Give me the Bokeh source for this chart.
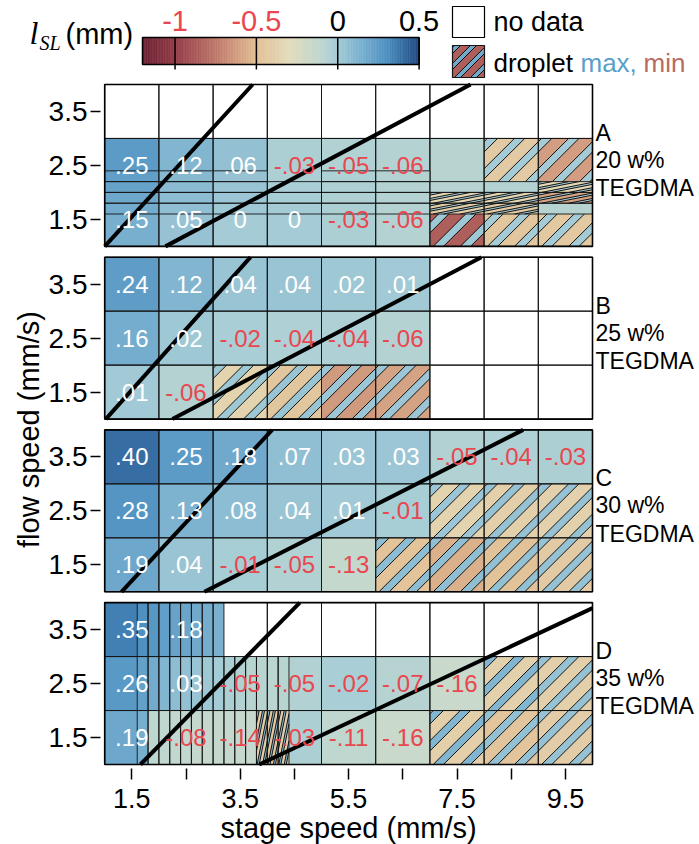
import numpy as np
from bokeh.plotting import figure
from bokeh.models import Range1d, FixedTicker, LinearAxis
from bokeh.embed import file_html
from bokeh.resources import INLINE
from bokeh.core.properties import value

# ---------------- data ----------------
stage_speed = [1.5, 2.5, 3.5, 4.5, 5.5, 6.5, 7.5, 8.5, 9.5]   # column centres (mm/s)
flow_speed = [1.5, 2.5, 3.5]                                    # row centres (mm/s)
x_tick_labels = ["1.5", "", "3.5", "", "5.5", "", "7.5", "", "9.5"]
y_tick_labels = ["1.5", "2.5", "3.5"]
panel_letters = ["A", "B", "C", "D"]
panel_conc = ["20 w%", "25 w%", "30 w%", "35 w%"]
panel_name = ["TEGDMA", "TEGDMA", "TEGDMA", "TEGDMA"]

N = None  # no data ; droplet cells are (max, min) tuples
A_flow15 = [.15, .05, 0, 0, -.03, -.06, (.02, -.85), (0, -.45), (0, -.43)]
A_flow25 = [.25, .12, .06, -.03, -.05, -.06, -.08, (0, -.42), (0, -.62)]
A_flow35 = [N, N, N, N, N, N, N, N, N]
A_unlabelled = [(6, 1)]  # (column, row) drawn without a number
B_flow15 = [.01, -.06, (.02, -.36), (.04, -.45), (.03, -.63), (.03, -.60), N, N, N]
B_flow25 = [.16, .02, -.02, -.04, -.04, -.06, N, N, N]
B_flow35 = [.24, .12, .04, .04, .02, .01, N, N, N]
C_flow15 = [.19, .04, -.01, -.05, -.13, (.08, -.47), (.07, -.55), (.06, -.48), (.05, -.42)]
C_flow25 = [.28, .13, .08, .04, .01, -.01, (.03, -.36), (.05, -.38), (.05, -.37)]
C_flow35 = [.40, .25, .18, .07, .03, .03, -.05, -.04, -.03]
D_flow15 = [.19, -.08, -.14, -.03, -.11, -.16, (.12, -.38), (.06, -.46), (.05, -.40)]
D_flow25 = [.26, .03, -.05, -.05, -.02, -.07, -.16, (.12, -.37), (.05, -.38)]
D_flow35 = [.35, .18, N, N, N, N, N, N, N]

# finer sampling (0.2 mm/s steps)
fine_step = 0.2
A_fine_flow = [1.7, 1.9, 2.1, 2.3]
A_fine = [
    [.17, .19, .21, .23],
    [.07, .08, .09, .10],
    [.02, .03, .04, .05],
    [0, -.01, -.02, N],
    [-.03, -.04, -.04, -.04],
    [-.06, -.06, -.06, -.06],
    [(0, -.40), (0, -.33), -.07, N],
    [(0, -.42), (0, -.33), -.06, N],
    [-.07, (0, -.60), (0, -.33), N],
]
D_fine_stage = [1.7, 1.9, 2.1, 2.3, 2.5, 2.7, 2.9, 3.1, 3.3, 3.5, 3.7, 3.9, 4.1, 4.3]
D_fine_flow35 = [.30, .27, .23, .21, .20, .18, .16, .14, N, N, N, N, N, N]
D_fine_flow25 = [.22, .17, .12, .08, .06, .04, .02, 0, -.03, -.05, -.08, -.08, -.09, -.08]
D_fine_flow15 = [.15, -.10, -.11, -.12, -.12, -.13, -.13, -.13, -.14, -.14, -.14,
                 (.10, -.40), (.10, -.45), (.10, -.40)]

# boundary lines: stage speed where they cross flow 1 and flow 4 (A, B, C, D)
upper_x_at_flow1 = [1.00, 1.02, 1.31, 1.66]
upper_x_at_flow4 = [3.73, 3.69, 4.09, 4.60]
lower_x_at_flow1 = [2.12, 2.25, 2.84, 3.85]
lower_x_at_flow4 = [7.75, 7.95, 8.72, 10.22]

cbar_ticks = [-1, -0.5, 0, 0.5]
cbar_tick_labels = ["-1", "-0.5", "0", "0.5"]
cbar_min, cbar_max = -1.2, 0.5

panels = [
    [A_flow15, A_flow25, A_flow35],
    [B_flow15, B_flow25, B_flow35],
    [C_flow15, C_flow25, C_flow35],
    [D_flow15, D_flow25, D_flow35],
]

# ---------------- style ----------------
FONT = value("Liberation Sans")
RED_TXT = "#e8474f"
cm_vals = [-1.2, -1.0, -0.75, -0.5, -0.3, -0.12, 0.0, 0.15, 0.3, 0.5]
cm_cols = ["#6b2232", "#933a48", "#c0786a", "#e2bf94", "#e3dbbb", "#c2d8cf",
           "#a5ccd6", "#78afcf", "#4e91c1", "#1e4a85"]
cm_rgb = [[int(c[1 + 2 * k:3 + 2 * k], 16) for c in cm_cols] for k in range(3)]


def cmap(v):
    v = min(max(v, cbar_min), cbar_max)
    rgb = [int(round(np.interp(v, cm_vals, ch))) for ch in cm_rgb]
    return "#%02x%02x%02x" % tuple(rgb)


def fmt(v):
    if v == 0:
        return "0"
    return ("-" if v < 0 else "") + ("%.2f" % abs(v))[1:]


P_STRIPE, W_STRIPE, PH_STRIPE = 0.5, 0.19, 0.06


def clip_half(poly, a, b, c):
    out = []
    n = len(poly)
    for i in range(n):
        pt, qt = poly[i], poly[(i + 1) % n]
        fp = a * pt[0] + b * pt[1] + c
        fq = a * qt[0] + b * qt[1] + c
        if fp >= 0:
            out.append(pt)
        if (fp >= 0) != (fq >= 0):
            t = fp / (fp - fq)
            out.append((pt[0] + t * (qt[0] - pt[0]), pt[1] + t * (qt[1] - pt[1])))
    return out


def stripe_geometry(x0, x1, y0, y1):
    sq = [(0, 0), (1, 0), (1, 1), (0, 1)]
    bands, lines = [], []
    mp = lambda u, v: (x0 + u * (x1 - x0), y0 + v * (y1 - y0))
    for k in range(-4, 4):
        lo = k * P_STRIPE + PH_STRIPE
        hi = lo + W_STRIPE
        poly = clip_half(sq, 1, -1, -lo)
        poly = clip_half(poly, -1, 1, hi)
        if len(poly) >= 3:
            bands.append([mp(*pt) for pt in poly])
        for c in (lo, hi):
            vlo, vhi = max(0.0, -c), min(1.0, 1.0 - c)
            if vhi > vlo:
                lines.append((mp(vlo + c, vlo), mp(vhi + c, vhi)))
    return bands, lines


def new_store():
    return {"q": [], "b": [], "l": []}


def add_cell(store, x0, x1, y0, y1, v, skip_none=False):
    if v is None:
        if not skip_none:
            store["q"].append((x0, x1, y0, y1, "#ffffff"))
        return
    if isinstance(v, tuple):
        vmax, vmin = v
        store["q"].append((x0, x1, y0, y1, cmap(vmin)))
        bands, lines = stripe_geometry(x0, x1, y0, y1)
        for bd in bands:
            store["b"].append((bd, cmap(vmax)))
        store["l"].extend(lines)
    else:
        store["q"].append((x0, x1, y0, y1, cmap(v)))


def draw_store(fig, store, lw, **rn):
    q = store["q"]
    if not q:
        return
    L = [a[0] for a in q]; R = [a[1] for a in q]
    B = [a[2] for a in q]; T = [a[3] for a in q]
    fig.quad(left=L, right=R, bottom=B, top=T, fill_color=[a[4] for a in q],
             line_color=None, **rn)
    if store["b"]:
        fig.patches(xs=[[pt[0] for pt in bd] for bd, _ in store["b"]],
                    ys=[[pt[1] for pt in bd] for bd, _ in store["b"]],
                    fill_color=[c for _, c in store["b"]], line_color=None, **rn)
    if store["l"]:
        fig.multi_line(xs=[[l[0][0], l[1][0]] for l in store["l"]],
                       ys=[[l[0][1], l[1][1]] for l in store["l"]],
                       line_color="black", line_width=0.9, **rn)
    fig.quad(left=L, right=R, bottom=B, top=T, fill_color=None,
             line_color="#151515", line_width=lw, **rn)


# ---------------- layout geometry (page pixels) ----------------
PAGE0 = 0                  # canvas origin on the page
W, H = 699, 844
X1_PX, SX = 104.2, 54.2    # page x of stage speed 1, px per mm/s
Y1_PX, SY = 764.0, 53.97   # page y of panel-D flow 1, px per mm/s
GAP = 0.2
offsets = [(3 - i) * (3 + GAP) for i in range(4)]  # A top ... D bottom

xr = Range1d(1 - (X1_PX - PAGE0) / SX, 1 + (PAGE0 + W - X1_PX) / SX)
yr = Range1d(1 - (PAGE0 + H - Y1_PX) / SY, 1 + (Y1_PX - PAGE0) / SY)


def dx(page_x):
    return 1 + (page_x - X1_PX) / SX


def dy(page_y):
    return 1 + (Y1_PX - page_y) / SY


p = figure(width=W, height=H, x_range=xr, y_range=yr, min_border=0,
           output_backend="svg", toolbar_location=None, outline_line_color=None,
           x_axis_location=None, y_axis_location=None)
p.grid.visible = False

# colour-bar coordinates: value on x, page pixel on y
CB_PX = 162.7
CB_LEFT = 142.0
p.extra_x_ranges = {"cb": Range1d(cbar_min - (CB_LEFT - PAGE0) / CB_PX,
                                  cbar_min + (PAGE0 + W - CB_LEFT) / CB_PX)}
p.extra_y_ranges = {"pg": Range1d(PAGE0 + H, PAGE0)}
CBR = dict(x_range_name="cb", y_range_name="pg")


def cx(page_x):
    return cbar_min + (page_x - CB_LEFT) / CB_PX


# ---------------- heat-map cells ----------------
base = new_store()
fine = new_store()
tx, ty, tt, tc = [], [], [], []
for i, rows in enumerate(panels):
    off = offsets[i]
    for r, row in enumerate(rows):
        for c, v in enumerate(row):
            xc, yc = stage_speed[c], flow_speed[r]
            add_cell(base, xc - 0.5, xc + 0.5, off + yc - 0.5, off + yc + 0.5, v)
            if v is not None and not isinstance(v, tuple):
                if i == 0 and (c, r) in A_unlabelled:
                    continue
                tx.append(xc); ty.append(off + yc); tt.append(fmt(v))
                tc.append("white" if v >= 0 else RED_TXT)

for c, colvals in enumerate(A_fine):
    xc = stage_speed[c]
    for fy, v in zip(A_fine_flow, colvals):
        add_cell(fine, xc - 0.5, xc + 0.5, offsets[0] + fy - fine_step / 2,
                 offsets[0] + fy + fine_step / 2, v, skip_none=True)
for r, vals in enumerate([D_fine_flow15, D_fine_flow25, D_fine_flow35]):
    yc = flow_speed[r]
    for fx, v in zip(D_fine_stage, vals):
        add_cell(fine, fx - fine_step / 2, fx + fine_step / 2, offsets[3] + yc - 0.5,
                 offsets[3] + yc + 0.5, v, skip_none=True)

draw_store(p, base, 1.0)
draw_store(p, fine, 0.9)

p.quad(left=[1] * 4, right=[10] * 4, bottom=[o + 1 for o in offsets],
       top=[o + 4 for o in offsets], fill_color=None, line_color="black", line_width=1.6)

lx, ly = [], []
for i in range(4):
    off = offsets[i]
    for xa, xb in ((upper_x_at_flow1[i], upper_x_at_flow4[i]),
                   (lower_x_at_flow1[i], lower_x_at_flow4[i])):
        ya, yb = 1.0, 4.0
        if xb > 10:
            yb = 1.0 + 3.0 * (10 - xa) / (xb - xa)
            xb = 10.0
        lx.append([xa, xb]); ly.append([off + ya, off + yb])
p.multi_line(xs=lx, ys=ly, line_color="black", line_width=4)

p.text(x=tx, y=ty, text=tt, text_color=tc, text_font=FONT, text_font_size="24px",
       text_align="center", text_baseline="middle")

# panel side labels
sx_, sy_, st_ = [], [], []
for i in range(4):
    for txt, yy in ((panel_letters[i], 3.1), (panel_conc[i], 2.6), (panel_name[i], 2.08)):
        sx_.append(dx(595)); sy_.append(offsets[i] + yy); st_.append(txt)
p.text(x=sx_, y=sy_, text=st_, text_font=FONT, text_font_size="23px",
       text_baseline="middle", text_align="left", text_color="black")

# ---------------- axes ----------------
xax = LinearAxis(fixed_location=dy(767), ticker=FixedTicker(ticks=stage_speed),
                 major_label_overrides={s: l for s, l in zip(stage_speed, x_tick_labels)})
yt = [offsets[i] + f for i in range(4) for f in flow_speed]
yax = LinearAxis(fixed_location=dx(102), ticker=FixedTicker(ticks=yt),
                 major_label_overrides={offsets[i] + f: l for i in range(4)
                                        for f, l in zip(flow_speed, y_tick_labels)})
for ax in (xax, yax):
    ax.axis_line_color = None
    ax.major_tick_in = -2
    ax.major_tick_out = 12
    ax.minor_tick_line_color = None
    ax.major_tick_line_width = 1.5
    ax.major_tick_line_color = "black"
    ax.major_label_text_font = "Liberation Sans"
    ax.major_label_text_color = "black"
xax.major_tick_in = -1
xax.major_label_standoff = 9
yax.major_label_standoff = 3
xax.major_label_text_font_size = "27px"
yax.major_label_text_font_size = "28px"
p.add_layout(xax, "below")
p.add_layout(yax, "left")

p.text(x=[5.5], y=[dy(827)], text=["stage speed (mm/s)"], text_font=FONT,
       text_font_size="29px", text_align="center", text_baseline="middle",
       text_color="black")
p.text(x=[dx(28)], y=[dy(429)], text=["flow speed (mm/s)"], text_font=FONT,
       text_font_size="29px", text_align="center", text_baseline="middle",
       text_color="black", angle=np.pi / 2)

# ---------------- colour bar ----------------
steps = np.arange(cbar_min, cbar_max - 1e-9, 0.01)
cols = [cmap(v + 0.005) for v in steps]
p.quad(left=steps, right=steps + 0.01, top=[37] * len(steps), bottom=[64] * len(steps),
       fill_color=cols, line_color=cols, line_width=0.6, **CBR)
p.quad(left=[cbar_min], right=[cbar_max], top=[37], bottom=[64], fill_color=None,
       line_color="black", line_width=1.5, **CBR)
p.segment(x0=cbar_ticks, y0=[37] * 4, x1=cbar_ticks, y1=[69] * 4, line_color="black",
          line_width=1.5, **CBR)
p.text(x=cbar_ticks, y=[20] * 4, text=cbar_tick_labels,
       text_color=[RED_TXT if t < 0 else "black" for t in cbar_ticks], text_font=FONT,
       text_font_size="29px", text_align="center", text_baseline="middle", **CBR)
p.text(x=[cx(29)], y=[32], text=["l"], text_font=value("Liberation Serif"),
       text_font_style="italic", text_font_size="32px", text_baseline="middle", **CBR)
p.text(x=[cx(39)], y=[42], text=["SL"], text_font=value("Liberation Serif"),
       text_font_style="italic", text_font_size="20px", text_baseline="middle", **CBR)
p.text(x=[cx(65)], y=[33], text=["(mm)"], text_font=FONT, text_font_size="29px",
       text_baseline="middle", **CBR)

# ---------------- legend ----------------
lx0, lx1 = cx(452), cx(484)
p.quad(left=[lx0], right=[lx1], top=[6], bottom=[37], fill_color="white",
       line_color="black", line_width=1.2, **CBR)
leg = new_store()
add_cell(leg, lx0, lx1, 77, 45, (0.18, -0.85))
draw_store(p, leg, 1.2, **CBR)
p.text(x=[cx(493)], y=[21], text=["no data"], text_font=FONT, text_font_size="27px",
       text_baseline="middle", text_color="black", **CBR)
p.text(x=[cx(493), cx(580), cx(643)], y=[62, 62, 62], text=["droplet", "max,", "min"],
       text_color=["black", "#5a9fc9", "#b86a63"], text_font=FONT, text_font_size="26px",
       text_baseline="middle", **CBR)

open("out.html", "w").write(file_html(p, INLINE))
